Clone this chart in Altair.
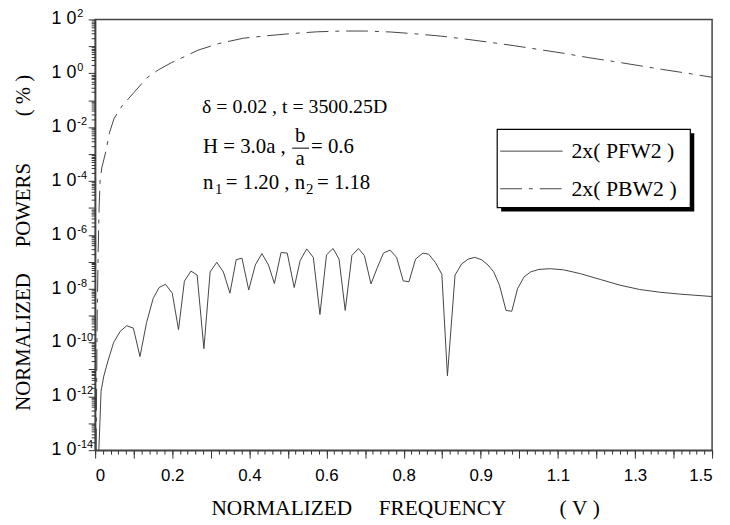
import altair as alt
import pandas as pd

# ---- data ----
v_pfw = [0.009, 0.0144, 0.0209, 0.0305, 0.0449, 0.061, 0.0769, 0.093, 0.109, 0.125,
         0.141, 0.1555, 0.171, 0.1875, 0.2027, 0.217, 0.233, 0.248, 0.2644, 0.2796,
         0.2957, 0.3117, 0.3277, 0.343, 0.357, 0.3734, 0.3894, 0.4055, 0.4214, 0.4358,
         0.452, 0.467, 0.484, 0.4984, 0.5144, 0.5305, 0.5465, 0.5625, 0.5786, 0.593,
         0.608, 0.6242, 0.640, 0.6546, 0.6707, 0.685, 0.701, 0.717, 0.733, 0.749,
         0.763, 0.779, 0.797, 0.811, 0.827, 0.843, 0.8565, 0.875, 0.891, 0.907,
         0.923, 0.939, 0.955, 0.969, 0.983, 0.999, 1.013, 1.027, 1.043, 1.059,
         1.079, 1.107, 1.139, 1.180, 1.228, 1.276, 1.324, 1.372, 1.42, 1.5]
p_pfw = [1.0e-14, 1.55e-12, 5.5e-12, 1.9e-11, 1.0e-10, 2.6e-10, 4.2e-10, 3.4e-10, 3.0e-11, 5.5e-10,
         4.3e-9, 1.1e-8, 1.45e-8, 6.8e-9, 3.0e-10, 1.9e-8, 4.5e-8, 3.2e-8, 5.9e-11, 4.2e-8,
         9.5e-8, 4.2e-8, 6.8e-9, 1.2e-7, 1.35e-7, 8.9e-9, 7.6e-8, 2.0e-7, 7.6e-8, 1.55e-8,
         2.2e-7, 2.1e-7, 1.1e-8, 1.1e-7, 3.0e-7, 1.45e-7, 1.1e-9, 1.8e-7, 3.1e-7, 1.25e-7,
         1.55e-9, 1.7e-7, 3.1e-7, 1.7e-7, 1.5e-8, 5.5e-8, 2.1e-7, 2.7e-7, 1.45e-7, 1.95e-8,
         1.8e-8, 1.25e-7, 2.1e-7, 1.9e-7, 9.5e-8, 3.4e-8, 5.8e-12, 3.2e-8, 8.3e-8, 1.25e-7,
         1.45e-7, 1.2e-7, 7.6e-8, 4.2e-8, 1.35e-8, 1.55e-9, 1.45e-9, 1.0e-8, 2.75e-8, 4.2e-8,
         5.2e-8, 5.5e-8, 5.0e-8, 3.6e-8, 2.2e-8, 1.35e-8, 9.3e-9, 7.4e-9, 6.3e-9, 5.1e-9]

v_pbw = [0.0024, 0.005, 0.0075, 0.0096, 0.012, 0.016, 0.026, 0.035, 0.046, 0.066,
         0.094, 0.126, 0.154, 0.186, 0.218, 0.25, 0.3, 0.36, 0.42, 0.48,
         0.54, 0.6, 0.66, 0.72, 0.78, 0.84, 0.9, 0.96, 1.02, 1.08,
         1.14, 1.2, 1.26, 1.32, 1.38, 1.44, 1.5]
p_pbw = [1e-14, 1e-9, 3e-7, 1e-5, 1e-4, 3e-4, 1.26e-3, 6.3e-3, 0.021, 0.063,
         0.19, 0.68, 1.35, 2.5, 4.2, 7.2, 12.6, 20.0, 25.0, 30.0,
         34.7, 37.0, 37.0, 34.0, 29.0, 24.0, 18.6, 14.1, 10.5, 7.6,
         5.5, 3.8, 2.75, 1.95, 1.38, 1.0, 0.71]

x_major = [i * 0.09375 for i in range(17)]
x_minor = [i * 0.01875 for i in range(81)]
y_decades = [10.0 ** k for k in range(-14, 3)]
y_minor = [m * 10.0 ** k for k in range(-14, 2) for m in range(2, 10)]
y_label_exps = list(range(-14, 3, 2))

legend_names = ["2x( PFW2 )", "2x( PBW2 )"]

SERIF = "Liberation Serif"
SANS = "Liberation Sans"
NB = "\u00a0"
INK = "#444444"
DASH = [22, 7, 4, 7]

xscale = alt.Scale(domain=[0, 1.5], nice=False, zero=False)
yscale = alt.Scale(type="log", domain=[1e-14, 1e2], nice=False)

df_f = pd.DataFrame({"V": v_pfw, "P": p_pfw})
df_b = pd.DataFrame({"V": v_pbw, "P": p_pbw})
df_lab = pd.DataFrame({"P": [10.0 ** k for k in y_label_exps],
                       "e": [str(k) for k in y_label_exps]})
one = pd.DataFrame({"a": [0]})

x_title = ("NORMALIZED" + NB * 5 + "FREQUENCY" + NB * 10 + "(" + NB + "V"
           + NB + ")")
y_title = ("NORMALIZED" + NB * 5 + "POWERS" + NB * 9 + "(" + NB + "%"
           + NB + ")")

line_f = alt.Chart(df_f).mark_line(color=INK, strokeWidth=1).encode(
    x=alt.X("V:Q", scale=xscale, axis=alt.Axis(
        orient="bottom", values=x_major, tickSize=8, grid=False,
        labelExpr="datum.value == 0 ? '0' : (abs(datum.value/0.1875 - round(datum.value/0.1875)) < 0.001 ? format(datum.value, '.1f') : '')",
        labelFont=SANS, labelFontSize=17, labelPadding=10, labelColor="black",
        title=x_title, titleFont=SERIF, titleFontSize=21.5, titleFontWeight="normal",
        titlePadding=14, titleColor="black", titleX=313, titleAlign="center")),
    y=alt.Y("P:Q", scale=yscale, axis=alt.Axis(
        orient="left", values=y_decades, tickSize=7, labels=False, grid=False,
        title=y_title, titleFont=SERIF, titleFontSize=21, titleFontWeight="normal",
        titleColor="black", titleX=-72, titleY=225, titleAngle=270,
        titleAlign="center", titleBaseline="middle")),
)

line_b = alt.Chart(df_b).mark_line(color=INK, strokeWidth=1, strokeDash=DASH).encode(
    x=alt.X("V:Q", scale=xscale, axis=alt.Axis(
        orient="bottom", values=x_minor, tickSize=4, labels=False, domain=False,
        grid=False, title="")),
    y=alt.Y("P:Q", scale=yscale, axis=alt.Axis(
        orient="left", values=y_minor, tickSize=4, labels=False, domain=False,
        grid=False, title="")),
)

lab_base = alt.Chart(df_lab).mark_text(font=SANS, fontSize=18, align="right",
                                       baseline="middle", color="black").encode(
    x=alt.value(-19), y=alt.Y("P:Q", scale=yscale, axis=None),
    text=alt.value("1" + NB + "0"))
lab_exp = alt.Chart(df_lab).mark_text(font=SANS, fontSize=11, align="left",
                                      baseline="middle", dy=-5, color="black").encode(
    x=alt.value(-18), y=alt.Y("P:Q", scale=yscale, axis=None), text="e:N")


def txt(s, x, y, size=21, align="left", dy=0):
    return alt.Chart(one).mark_text(text=s, font=SERIF, fontSize=size, align=align,
                                    baseline="middle", color="black", dy=dy).encode(
        x=alt.value(x), y=alt.value(y))


ann = [
    txt("\u03b4 = 0.02 , t = 3500.25D", 108, 88, size=20),
    txt("H = 3.0a ,", 109, 129),
    txt("b", 207, 118, align="center"),
    txt("a", 207, 141, align="center"),
    alt.Chart(one).mark_rule(color="black", strokeWidth=1).encode(
        x=alt.value(199), x2=alt.value(216), y=alt.value(130)),
    txt("= 0.6", 218, 129),
    txt("n", 109, 165),
    txt("1", 121, 165, size=15, dy=6),
    txt("= 1.20 , n", 132, 165),
    txt("2", 213, 165, size=15, dy=6),
    txt("= 1.18", 224, 165),
]

legend = [
    alt.Chart(one).mark_rect(color="black").encode(
        x=alt.value(410), x2=alt.value(605), y=alt.value(115), y2=alt.value(194)),
    alt.Chart(one).mark_rect(fill="white", stroke="black", strokeWidth=1.2).encode(
        x=alt.value(406), x2=alt.value(601), y=alt.value(111), y2=alt.value(190)),
    alt.Chart(one).mark_rule(color=INK, strokeWidth=1).encode(
        x=alt.value(409), x2=alt.value(472), y=alt.value(133)),
    alt.Chart(one).mark_rule(color=INK, strokeWidth=1, strokeDash=DASH).encode(
        x=alt.value(409), x2=alt.value(477), y=alt.value(171)),
    txt(legend_names[0], 481, 133, size=22),
    txt(legend_names[1], 481, 171, size=22),
]

chart = alt.layer(line_f, line_b, lab_base, lab_exp, *ann, *legend).resolve_axis(
    x="independent", y="independent"
).properties(
    width=623, height=435,
    autosize=alt.AutoSizeParams(type="none"),
    padding={"left": 88, "top": 9, "right": 10, "bottom": 72},
).configure_view(
    stroke="#444444", strokeWidth=1.5
).configure_axis(
    domainColor="#444444", domainWidth=1.5, tickColor="#333333", tickWidth=1
)

chart.save("out.html", embed_options={"renderer": "svg", "actions": False})
